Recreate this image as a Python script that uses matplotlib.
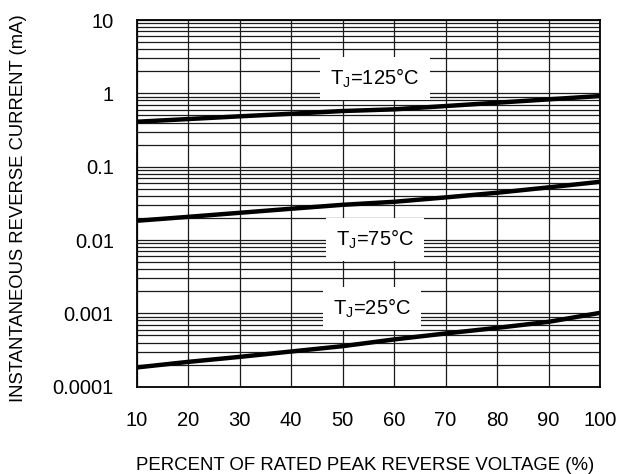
import numpy as np
import matplotlib
matplotlib.use("Agg")
import matplotlib.pyplot as plt
from matplotlib.ticker import FixedLocator, FixedFormatter, LogLocator, NullFormatter

plt.rcParams['font.family'] = ['Liberation Sans', 'DejaVu Sans']

# percent of rated peak reverse voltage
volts = [10, 20, 30, 40, 50, 60, 70, 80, 90, 100]

# reverse current (mA)
i_125 = [0.41, 0.446, 0.486, 0.527, 0.574, 0.605, 0.671, 0.745, 0.828, 0.919]
i_75 = [0.0183, 0.0207, 0.0235, 0.0267, 0.0302, 0.0332, 0.0381, 0.0441, 0.0522, 0.0622]
i_25 = [1.83e-4, 2.18e-4, 2.55e-4, 3.02e-4, 3.57e-4, 4.41e-4, 5.32e-4, 6.34e-4, 7.66e-4, 1.016e-3]

y_ticks = [1e-4, 1e-3, 1e-2, 1e-1, 1, 10]
y_labels = ['0.0001', '0.001', '0.01', '0.1', '1', '10']
x_ticks = [10, 20, 30, 40, 50, 60, 70, 80, 90, 100]

# label text and where it sits (x, y)
curve_labels = [
    (r'T$_\mathregular{J}$=125°C', 56.3, 1.6),
    (r'T$_\mathregular{J}$=75°C', 56.3, 0.0101),
    (r'T$_\mathregular{J}$=25°C', 55.7, 0.00116),
]

fig = plt.figure(figsize=(6.19, 4.74), dpi=100)
ax = fig.add_axes([136.7 / 619, 1 - 386.7 / 474, 463.3 / 619, 366.7 / 474])

ax.set_yscale('log')
ax.set_xlim(10, 100)
ax.set_ylim(1e-4, 10)

ax.xaxis.set_major_locator(FixedLocator(x_ticks))
ax.yaxis.set_major_locator(FixedLocator(y_ticks))
ax.yaxis.set_major_formatter(FixedFormatter(y_labels))
ax.yaxis.set_minor_locator(LogLocator(base=10, subs=np.arange(2, 10)))
ax.yaxis.set_minor_formatter(NullFormatter())

ax.grid(True, which='major', axis='both', color='#1a1a1a', lw=0.9)
ax.grid(True, which='minor', axis='y', color='#1a1a1a', lw=0.9)
ax.tick_params(which='both', length=0)
ax.tick_params(axis='y', labelsize=14.5, pad=16.5)
ax.tick_params(axis='x', labelsize=14.5, pad=17.5)
for s in ax.spines.values():
    s.set_linewidth(1.3)
    s.set_zorder(5)

for vals in (i_125, i_75, i_25):
    ax.plot(volts, vals, color='black', lw=3.2, solid_capstyle='butt', zorder=4)

for txt, x, y in curve_labels:
    ax.text(x, y, txt, fontsize=14.5, ha='center', va='center', zorder=6,
            bbox=dict(facecolor='white', edgecolor='none', boxstyle='square,pad=0.5'))

fig.text(365 / 619, 1 - 465 / 474, 'PERCENT OF RATED PEAK REVERSE VOLTAGE (%)',
         fontsize=13.4, ha='center', va='center')
fig.text(19 / 619, 1 - 208 / 474, 'INSTANTANEOUS REVERSE CURRENT (mA)',
         fontsize=13.3, ha='center', va='center', rotation=90)

fig.savefig('out.png', dpi=100)
